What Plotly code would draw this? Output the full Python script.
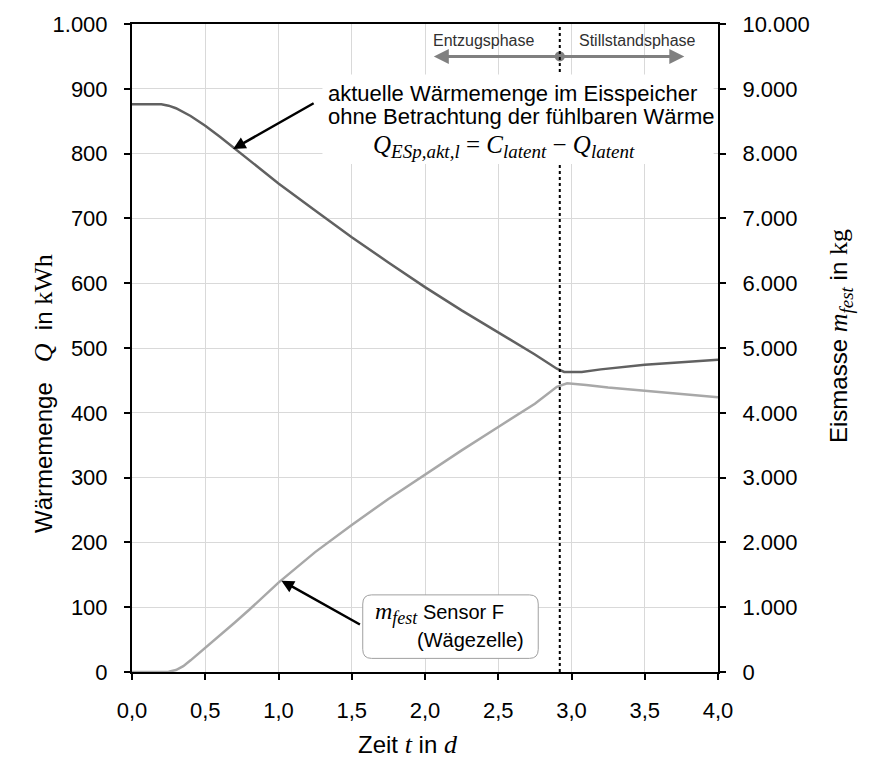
import plotly.graph_objects as go

# ---------------- data ----------------
t_Q = [0, 0.1, 0.2, 0.25, 0.3, 0.4, 0.5, 0.6, 0.7, 0.8, 0.9, 1.0, 1.25, 1.5, 1.75,
       2.0, 2.25, 2.5, 2.75, 2.9, 2.95, 3.0, 3.07, 3.2, 3.5, 3.75, 4.0]
Q_latent_akt = [876, 876, 876, 874, 870, 858, 843, 826, 808, 789, 771, 754, 712, 671, 632,
                594, 558, 524, 490, 468, 463, 463, 463, 467, 474, 478, 482]

t_m = [0, 0.1, 0.2, 0.25, 0.3, 0.35, 0.4, 0.45, 0.5, 0.6, 0.7, 0.8, 0.9, 1.0, 1.25, 1.5,
       1.75, 2.0, 2.25, 2.5, 2.75, 2.9, 2.97, 3.1, 3.25, 3.5, 3.75, 4.0]
m_fest = [0, 0, 0, 5, 30, 90, 180, 275, 370, 560, 760, 960, 1170, 1380, 1850, 2270,
          2670, 3050, 3420, 3780, 4140, 4400, 4455, 4430, 4390, 4340, 4290, 4240]

t_phase = 2.92          # Übergang Entzugsphase -> Stillstandsphase
x_ticks = [0, 0.5, 1.0, 1.5, 2.0, 2.5, 3.0, 3.5, 4.0]

SANS = "Liberation Sans, Arial, sans-serif"
SERIF = "Liberation Serif, serif"
DARK = "#616161"
LIGHT = "#a8a8a8"
GRID = "#d9d9d9"

fig = go.Figure()
fig.add_trace(go.Scatter(x=t_Q, y=Q_latent_akt, mode="lines", name="Q",
                         line=dict(color=DARK, width=2.5), yaxis="y"))
fig.add_trace(go.Scatter(x=t_m, y=m_fest, mode="lines", name="m_fest",
                         line=dict(color=LIGHT, width=2.5), yaxis="y2"))

axis_common = dict(showline=True, linecolor="black", linewidth=2,
                   ticks="outside", ticklen=6, tickwidth=2, tickcolor="black",
                   tickfont=dict(family=SANS, size=22, color="black"),
                   zeroline=False)

fig.update_layout(
    width=870, height=771,
    margin=dict(l=132, r=152, t=19, b=99),
    paper_bgcolor="white", plot_bgcolor="white",
    showlegend=False,
    separators=",.",
    xaxis=dict(range=[0, 4], tickvals=x_ticks, tickformat=".1f", showgrid=True,
               gridcolor=GRID, gridwidth=1, mirror=True, ticklabelstandoff=12,
               **axis_common),
    yaxis=dict(range=[0, 1000], dtick=100, tickformat=",.0f", showgrid=True,
               gridcolor=GRID, gridwidth=1, ticklabelstandoff=12, **axis_common),
    yaxis2=dict(range=[0, 10000], dtick=1000, tickformat=",.0f", overlaying="y",
                side="right", showgrid=False, ticklabelstandoff=12, **axis_common),
)

# vertical dotted phase line
fig.add_shape(type="line", xref="x", yref="y", x0=t_phase, x1=t_phase, y0=0, y1=1000,
              line=dict(color="black", width=2, dash="dot"), layer="above")

# white background behind the main text block
fig.add_shape(type="rect", xref="x", yref="y", x0=1.30, x1=3.97, y0=784, y1=922,
              line=dict(width=0), fillcolor="white", layer="above")

# rounded box for sensor label
bx0, bx1, by0, by1 = 1.575, 2.773, 21, 119
rx, ry = 0.06, 14
path = (f"M {bx0+rx},{by0} L {bx1-rx},{by0} Q {bx1},{by0} {bx1},{by0+ry} "
        f"L {bx1},{by1-ry} Q {bx1},{by1} {bx1-rx},{by1} L {bx0+rx},{by1} "
        f"Q {bx0},{by1} {bx0},{by1-ry} L {bx0},{by0+ry} Q {bx0},{by0} {bx0+rx},{by0} Z")
fig.add_shape(type="path", path=path, xref="x", yref="y",
              line=dict(color="#a0a0a0", width=1), fillcolor="white", layer="above")

# phase marker dot (drawn above shapes)
fig.add_trace(go.Scatter(x=[t_phase], y=[950], mode="markers",
                         marker=dict(color="#808080", size=10), yaxis="y",
                         showlegend=False))

def sub(txt, size=19):
    return f"<sub><span style='font-size:{size}px'><i>{txt}</i></span></sub>"

ann = []
# phase arrows
for tip in (2.06, 3.77):
    ann.append(dict(x=tip, y=950, ax=t_phase, ay=950, xref="x", yref="y",
                    axref="x", ayref="y", showarrow=True, arrowhead=2, arrowsize=1,
                    arrowwidth=3, arrowcolor="#808080", text=""))
ann.append(dict(x=2.40, y=974, xref="x", yref="y", text="Entzugsphase", showarrow=False,
                font=dict(family=SANS, size=16, color="#303030")))
ann.append(dict(x=3.45, y=974, xref="x", yref="y", text="Stillstandsphase", showarrow=False,
                font=dict(family=SANS, size=16, color="#303030")))

# main annotation text (left aligned lines)
ann.append(dict(x=1.324, y=892, xref="x", yref="y", showarrow=False, xanchor="left",
                text="aktuelle Wärmemenge im Eisspeicher",
                font=dict(family=SANS, size=22, color="black")))
ann.append(dict(x=1.324, y=858, xref="x", yref="y", showarrow=False, xanchor="left",
                text="ohne Betrachtung der fühlbaren Wärme",
                font=dict(family=SANS, size=22, color="black")))
ann.append(dict(x=3.45, y=811, xref="x", yref="y", showarrow=False, xanchor="right",
                text="<i>Q</i>" + sub("ESp,akt,l") + " = <i>C</i>" + sub("latent")
                     + " − <i>Q</i>" + sub("latent"),
                font=dict(family=SERIF, size=25, color="black")))
# arrow to Q curve
ann.append(dict(x=0.69, y=807, ax=1.25, ay=879, xref="x", yref="y", axref="x", ayref="y",
                showarrow=True, arrowhead=2, arrowsize=1, arrowwidth=2.5,
                arrowcolor="black", text=""))

# sensor box text
ann.append(dict(x=1.643, y=91, xref="x", yref="y", showarrow=False, xanchor="left",
                text=f"<span style='font-family:{SERIF};font-size:24px'><i>m</i>{sub('fest', 18)}</span> Sensor F",
                font=dict(family=SANS, size=20, color="black")))
ann.append(dict(x=2.31, y=49, xref="x", yref="y", showarrow=False, text="(Wägezelle)",
                font=dict(family=SANS, size=20, color="black")))
ann.append(dict(x=1.02, y=141, ax=1.566, ay=72, xref="x", yref="y", axref="x", ayref="y",
                showarrow=True, arrowhead=2, arrowsize=1, arrowwidth=2.5,
                arrowcolor="black", text=""))

# axis titles
ann.append(dict(x=-0.179, y=0.43, xref="paper", yref="paper", showarrow=False, textangle=-90,
                text=f"Wärmemenge&nbsp;&nbsp;&nbsp;<span style='font-family:{SERIF};font-size:26px'><i>Q</i></span>"
                     f"&nbsp;&nbsp;in <span style='font-family:{SERIF};font-size:26px'>kWh</span>",
                font=dict(family=SANS, size=24, color="black")))
ann.append(dict(x=1.24, y=0.518, xref="paper", yref="paper", showarrow=False, textangle=-90,
                text=f"Eismasse <span style='font-family:{SERIF};font-size:26px'><i>m</i>{sub('fest', 19)}</span>"
                     f" in <span style='font-family:{SERIF};font-size:26px'>kg</span>",
                font=dict(family=SANS, size=24, color="black")))
ann.append(dict(x=0.471, y=-0.138, xref="paper", yref="paper", showarrow=False,
                text=f"Zeit <span style='font-family:{SERIF};font-size:26px'><i>t</i></span> in "
                     f"<span style='font-family:{SERIF};font-size:26px'><i>d</i></span>",
                font=dict(family=SANS, size=24, color="black")))

fig.update_layout(annotations=ann)
fig.write_html("out.html")
